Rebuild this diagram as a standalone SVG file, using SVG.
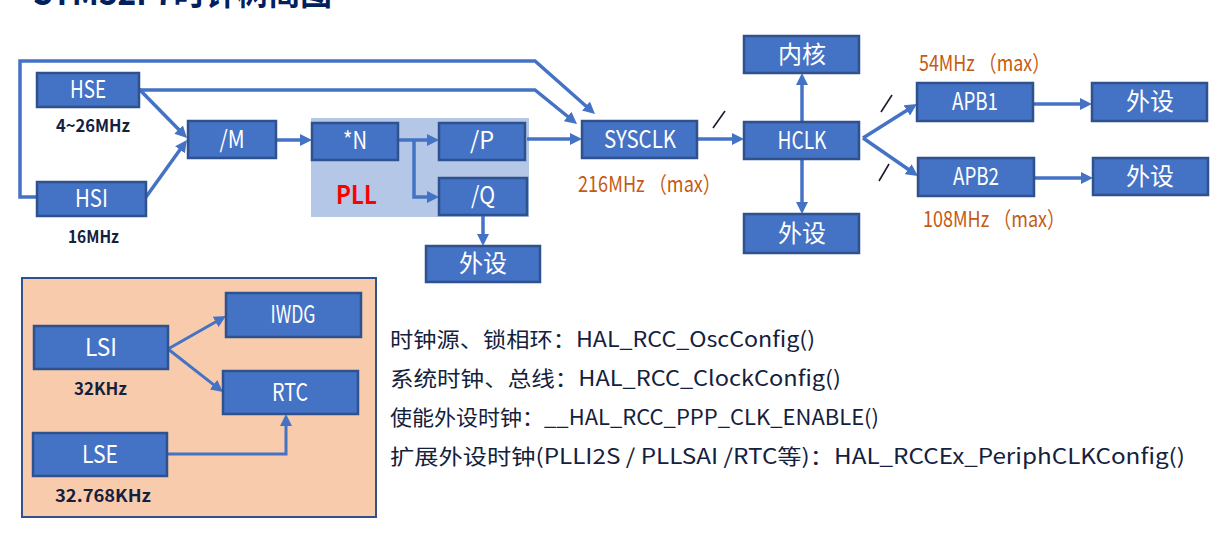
<svg xmlns="http://www.w3.org/2000/svg" width="1226" height="533" viewBox="0 0 1226 533">
<defs>
<style>
.box{fill:#4472C4;stroke:#2F528F;stroke-width:2.5}
.lbl{font-family:"Noto Sans CJK SC","Noto Sans",sans-serif;font-size:24px;fill:#FFFFFF;text-anchor:middle}
.sub{font-family:"Noto Sans CJK SC","Noto Sans",sans-serif;font-size:17px;font-weight:bold;fill:#14213D;text-anchor:middle}
.frq{font-family:"Noto Sans CJK SC","Noto Sans",sans-serif;font-size:22px;fill:#C55A11}
.note{font-family:"Noto Sans CJK SC","Noto Sans",sans-serif;font-size:21px;fill:#14213D}
.con{fill:none;stroke:#4472C4;stroke-width:3.5}
.con2{fill:none;stroke:#4472C4;stroke-width:3}
.slash{stroke:#1A1A2E;stroke-width:1.6}
</style>
<marker id="a" viewBox="0 0 12 12" refX="4" refY="6" markerWidth="12" markerHeight="12" markerUnits="userSpaceOnUse" orient="auto">
<path d="M0,0 L12,6 L0,12 z" fill="#4472C4"/>
</marker>
</defs>
<rect width="1226" height="533" fill="#FFFFFF"/>
<text x="33" y="5" font-family="Noto Sans CJK SC, sans-serif" font-size="36" font-weight="bold" fill="#002060" textLength="299" lengthAdjust="spacingAndGlyphs">STM32F7时钟树简图</text>

<rect id="pll-bg" x="311" y="118" width="218" height="99" fill="#B4C7E7"/>
<g id="panel"><rect x="22" y="278" width="354" height="239" fill="#F8CBAD" stroke="#2F528F" stroke-width="2"/></g>

<g id="connectors">
<path class="con" d="M37,197 H20 V61 H535 L589,108.7" marker-end="url(#a)"/>
<path class="con" d="M139,90 H535 L570.8,119" marker-end="url(#a)"/>
<path class="con" d="M139,89 L181.4,132.3" marker-end="url(#a)"/>
<path class="con" d="M146,197 L182.3,146.5" marker-end="url(#a)"/>
<path class="con" d="M276,140 H304" marker-end="url(#a)"/>
<path class="con" d="M398,140 H431" marker-end="url(#a)"/>
<path class="con" d="M414,140 V197 H431" marker-end="url(#a)"/>
<path class="con" d="M483,215 V238" marker-end="url(#a)"/>
<path class="con" d="M527,139 H574" marker-end="url(#a)"/>
<path class="con" d="M697,139 H736" marker-end="url(#a)"/>
<path class="con" d="M802,122 V81" marker-end="url(#a)"/>
<path class="con" d="M802,159 V206" marker-end="url(#a)"/>
<path class="con" d="M863,138 L910.2,108.3" marker-end="url(#a)"/>
<path class="con" d="M863,138 L911.4,171.5" marker-end="url(#a)"/>
<path class="con" d="M1033,104 H1084" marker-end="url(#a)"/>
<path class="con" d="M1034,178 H1085" marker-end="url(#a)"/>
<path class="con2" d="M168,349 L219,320" marker-end="url(#a)"/>
<path class="con2" d="M168,349 L216.7,387.1" marker-end="url(#a)"/>
<path class="con2" d="M167,454 H286 V422" marker-end="url(#a)"/>
<line class="slash" x1="713" y1="128" x2="725" y2="111"/>
<line class="slash" x1="881" y1="112" x2="892" y2="95"/>
<line class="slash" x1="879" y1="181" x2="889" y2="164"/>
</g>

<g id="hse"><rect class="box" x="37" y="73" width="102" height="34"/><text class="lbl" x="88" y="98" textLength="36" lengthAdjust="spacingAndGlyphs">HSE</text></g>
<g id="hsi"><rect class="box" x="37" y="182" width="109" height="34"/><text class="lbl" x="91.5" y="207" textLength="33" lengthAdjust="spacingAndGlyphs">HSI</text></g>
<g id="div-m"><rect class="box" x="188" y="121" width="88" height="37"/><text class="lbl" x="232" y="148" textLength="25" lengthAdjust="spacingAndGlyphs">/M</text></g>
<g id="mul-n"><rect class="box" x="312" y="123" width="86" height="37"/><text class="lbl" x="355" y="149" textLength="24" lengthAdjust="spacingAndGlyphs">*N</text></g>
<g id="div-p"><rect class="box" x="439" y="123" width="86" height="37"/><text class="lbl" x="482" y="149" textLength="24" lengthAdjust="spacingAndGlyphs">/P</text></g>
<g id="div-q"><rect class="box" x="439" y="178" width="88" height="37"/><text class="lbl" x="483" y="204" textLength="24" lengthAdjust="spacingAndGlyphs">/Q</text></g>
<g id="periph-q"><rect class="box" x="426" y="246" width="114" height="36"/><text class="lbl" x="483" y="272">外设</text></g>
<g id="sysclk"><rect class="box" x="582" y="121" width="115" height="37"/><text class="lbl" x="640" y="148" textLength="72" lengthAdjust="spacingAndGlyphs">SYSCLK</text></g>
<g id="hclk"><rect class="box" x="744" y="122" width="115" height="37"/><text class="lbl" x="802" y="149" textLength="49" lengthAdjust="spacingAndGlyphs">HCLK</text></g>
<g id="core"><rect class="box" x="744" y="36" width="115" height="37"/><text class="lbl" x="802" y="63">内核</text></g>
<g id="periph-h"><rect class="box" x="744" y="214" width="115" height="39"/><text class="lbl" x="802" y="242">外设</text></g>
<g id="apb1"><rect class="box" x="917" y="83" width="116" height="38"/><text class="lbl" x="975" y="110" textLength="46" lengthAdjust="spacingAndGlyphs">APB1</text></g>
<g id="apb2"><rect class="box" x="918" y="158" width="116" height="38"/><text class="lbl" x="976" y="185" textLength="46" lengthAdjust="spacingAndGlyphs">APB2</text></g>
<g id="periph-1"><rect class="box" x="1092" y="83" width="115" height="38"/><text class="lbl" x="1150" y="110">外设</text></g>
<g id="periph-2"><rect class="box" x="1093" y="158" width="115" height="37"/><text class="lbl" x="1150" y="185">外设</text></g>
<g id="iwdg"><rect class="box" x="226" y="293" width="135" height="44"/><text class="lbl" x="293" y="323" textLength="45" lengthAdjust="spacingAndGlyphs">IWDG</text></g>
<g id="lsi"><rect class="box" x="34" y="326" width="134" height="43"/><text class="lbl" x="101" y="356" textLength="32" lengthAdjust="spacingAndGlyphs">LSI</text></g>
<g id="rtc"><rect class="box" x="223" y="371" width="135" height="43"/><text class="lbl" x="290" y="401" textLength="36" lengthAdjust="spacingAndGlyphs">RTC</text></g>
<g id="lse"><rect class="box" x="33" y="433" width="134" height="43"/><text class="lbl" x="100" y="463" textLength="36" lengthAdjust="spacingAndGlyphs">LSE</text></g>

<g id="labels">
<text class="sub" x="93" y="132" textLength="74" lengthAdjust="spacingAndGlyphs">4~26MHz</text>
<text class="sub" x="93.5" y="243" textLength="51" lengthAdjust="spacingAndGlyphs">16MHz</text>
<text class="sub" x="100.5" y="395" textLength="53" lengthAdjust="spacingAndGlyphs">32KHz</text>
<text class="sub" x="103" y="502" textLength="96" lengthAdjust="spacingAndGlyphs">32.768KHz</text>
<text x="356.5" y="204" font-family="Noto Sans CJK SC, sans-serif" font-size="25" font-weight="bold" fill="#FF0000" text-anchor="middle" textLength="41" lengthAdjust="spacingAndGlyphs">PLL</text>
<text class="frq" x="578" y="192" textLength="143" lengthAdjust="spacingAndGlyphs">216MHz （max）</text>
<text class="frq" x="919" y="71" textLength="131" lengthAdjust="spacingAndGlyphs">54MHz （max）</text>
<text class="frq" x="923" y="227" textLength="142" lengthAdjust="spacingAndGlyphs">108MHz （max）</text>
<text class="note" x="390" y="347" textLength="425" lengthAdjust="spacingAndGlyphs">时钟源、锁相环：HAL_RCC_OscConfig()</text>
<text class="note" x="390" y="386" textLength="451" lengthAdjust="spacingAndGlyphs">系统时钟、总线：HAL_RCC_ClockConfig()</text>
<text class="note" x="390" y="425" textLength="489" lengthAdjust="spacingAndGlyphs">使能外设时钟：__HAL_RCC_PPP_CLK_ENABLE()</text>
<text class="note" x="390" y="464" textLength="795" lengthAdjust="spacingAndGlyphs">扩展外设时钟(PLLI2S / PLLSAI /RTC等)：HAL_RCCEx_PeriphCLKConfig()</text>
</g>
</svg>
